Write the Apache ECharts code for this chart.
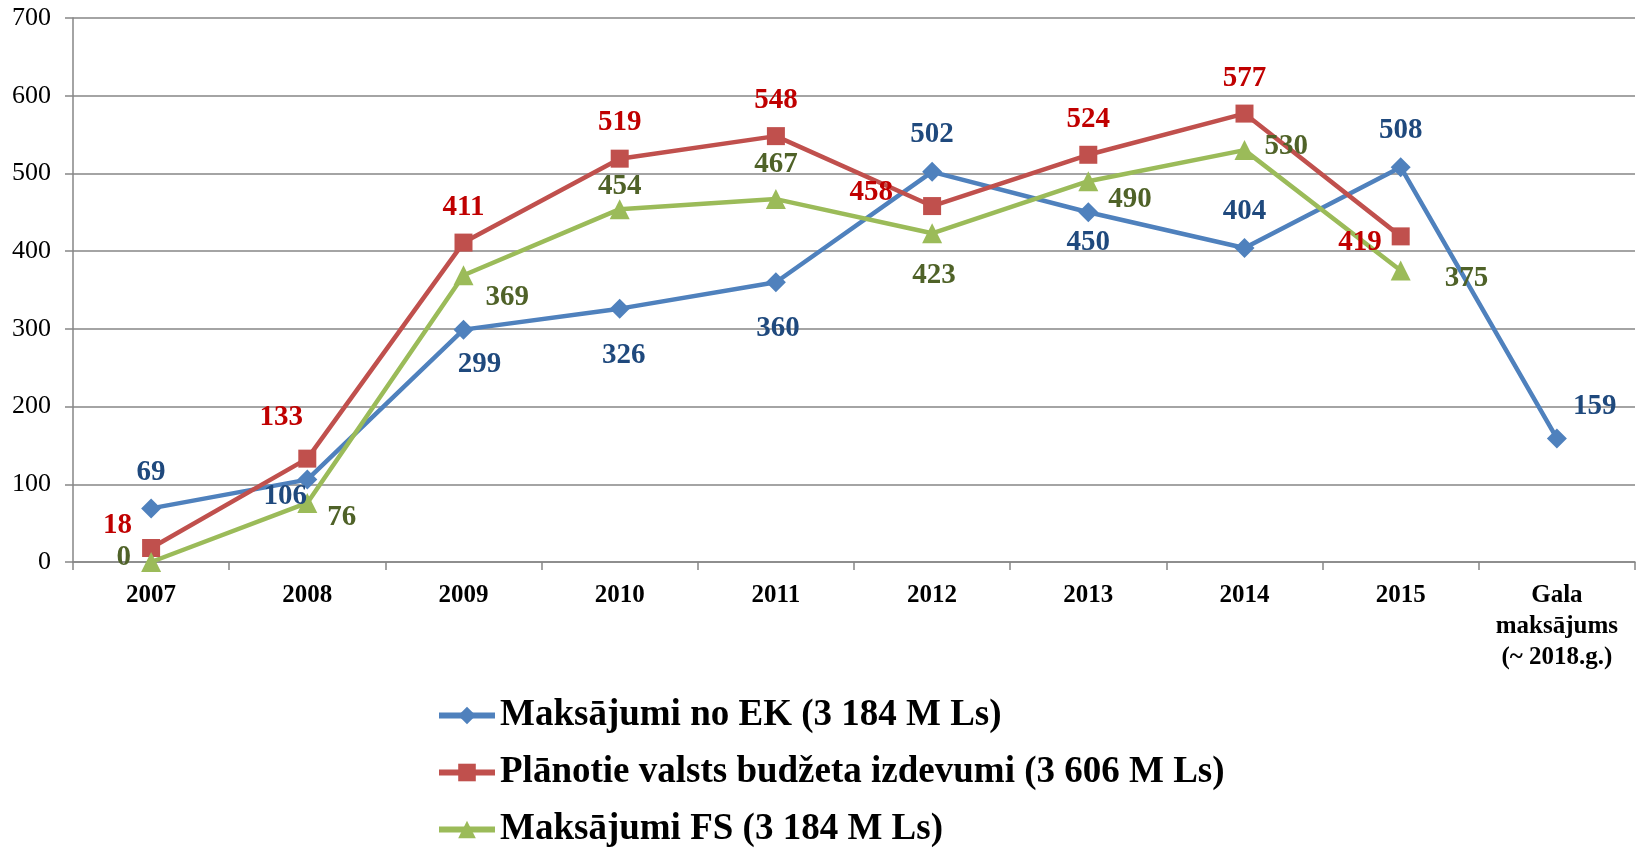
<!DOCTYPE html>
<html>
<head>
<meta charset="utf-8">
<script src="https://cdn.jsdelivr.net/npm/echarts@6/dist/echarts.min.js"></script>
<style>
html, body { margin: 0; padding: 0; background: #fff; }
#main { width: 1637px; height: 849px; }
</style>
</head>
<body>
<div id="main"></div>
<script>
var categories = ['2007', '2008', '2009', '2010', '2011', '2012', '2013', '2014', '2015', 'Gala\nmaksājums\n(~ 2018.g.)'];
var seriesNames = ['Maksājumi no EK (3 184 M Ls)', 'Plānotie valsts budžeta izdevumi (3 606 M Ls)', 'Maksājumi FS (3 184 M Ls)'];
var ekValues = [69, 106, 299, 326, 360, 502, 450, 404, 508, 159];
var budgetValues = [18, 133, 411, 519, 548, 458, 524, 577, 419, null];
var fsValues = [0, 76, 369, 454, 467, 423, 490, 530, 375, null];
var yTicks = [0, 700, 100]; // min, max, step

// label placement per point: [position, distance, offsetX, offsetY]
var ekLabels = [['top',11,0,0], ['bottom',-4,-22,-4], ['bottom',8,16,2], ['bottom',22,4,0], ['bottom',22,2,0],
    ['top',13,0,0], ['bottom',6,0,0], ['top',12,0,0], ['top',12,0,0], ['right',6,0,-32]];
var budgetLabels = [['left',10,0,-22], ['top',10,-26,-8], ['top',12,0,0], ['top',13,0,0], ['top',12,0,0],
    ['left',30,0,-14], ['top',12,0,0], ['top',12,0,0], ['left',10,0,6], null];
var fsLabels = [['left',10,0,-4], ['right',10,0,15], ['right',12,0,22], ['top',-2,0,0], ['top',10,0,0],
    ['bottom',18,2,0], ['right',10,0,18], ['right',10,0,-4], ['right',34,0,8], null];

var serif = '"Liberation Serif", "Times New Roman", serif';

function buildData(values, labels) {
    return values.map(function (v, i) {
        var l = labels[i];
        if (v === null || !l) return v;
        return {
            value: v,
            label: { position: l[0], distance: l[1], offset: [l[2], l[3]] }
        };
    });
}

function makeSeries(name, values, labels, color, labelColor, symbol, size) {
    return {
        name: name,
        type: 'line',
        data: buildData(values, labels),
        symbol: symbol,
        symbolSize: size,
        showAllSymbol: true,
        lineStyle: { color: color, width: 4.5 },
        itemStyle: { color: color },
        label: {
            show: true,
            color: labelColor,
            fontFamily: serif,
            fontWeight: 'bold',
            fontSize: 29
        },
        emphasis: { disabled: true }
    };
}

var myChart = echarts.init(document.getElementById('main'));
var option = {
    animation: false,
    backgroundColor: '#fff',
    grid: { left: 73, right: 2, top: 18, bottom: 287 },
    legend: {
        orient: 'vertical',
        left: 436,
        top: 697,
        padding: 0,
        itemWidth: 56,
        itemHeight: 22,
        itemGap: 20,
        lineStyle: { width: 6 },
        textStyle: { fontFamily: serif, fontWeight: 'bold', fontSize: 37, lineHeight: 36, color: '#000' },
        data: seriesNames
    },
    xAxis: {
        type: 'category',
        data: categories,
        boundaryGap: true,
        axisLine: { lineStyle: { color: '#868686', width: 1.5 } },
        axisTick: { show: true, length: 8, lineStyle: { color: '#868686', width: 1.5 } },
        axisLabel: {
            interval: 0,
            margin: 18,
            color: '#000',
            fontFamily: serif,
            fontWeight: 'bold',
            fontSize: 25,
            lineHeight: 31
        }
    },
    yAxis: {
        type: 'value',
        min: yTicks[0],
        max: yTicks[1],
        interval: yTicks[2],
        axisLine: { show: true, lineStyle: { color: '#868686', width: 1.5 } },
        axisTick: { show: true, length: 8, lineStyle: { color: '#868686', width: 1.5 } },
        splitLine: { lineStyle: { color: '#868686', width: 1.5 } },
        axisLabel: {
            margin: 22,
            color: '#000',
            fontFamily: serif,
            fontSize: 26
        }
    },
    series: [
        makeSeries(seriesNames[0], ekValues, ekLabels, '#4F81BD', '#1F497D', 'diamond', 20),
        makeSeries(seriesNames[1], budgetValues, budgetLabels, '#C0504D', '#C00000', 'rect', 18),
        makeSeries(seriesNames[2], fsValues, fsLabels, '#9BBB59', '#4F6228', 'triangle', 20)
    ]
};
myChart.setOption(option);
</script>
</body>
</html>
